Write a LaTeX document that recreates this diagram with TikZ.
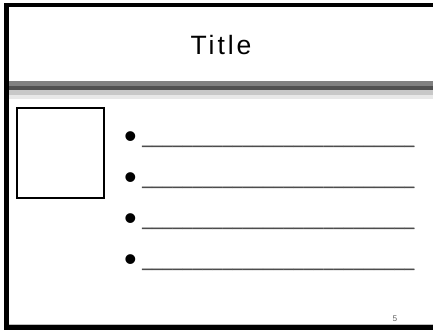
\documentclass[tikz,border=0pt]{standalone}
\usepackage{fontspec}
\setmainfont{Liberation Sans}
\usepackage{xcolor}

\begin{document}
\begin{tikzpicture}[x=0.75pt,y=0.75pt,yscale=-1,xscale=1]
\useasboundingbox (0,0) rectangle (433,332);

%Shape: Rectangle [id:frameleft]
\fill [color={rgb, 255:red, 0; green, 0; blue, 0 }] (4,3) -- (9,3) -- (9,329.5) -- (4,329.5) -- cycle ;
%Shape: Rectangle [id:frametop]
\fill [color={rgb, 255:red, 0; green, 0; blue, 0 }] (4,3) -- (433,3) -- (433,7) -- (4,7) -- cycle ;
%Shape: Rectangle [id:framebottom]
\fill [color={rgb, 255:red, 0; green, 0; blue, 0 }] (5,325) -- (433,325) -- (433,329.5) -- (5,329.5) -- cycle ;
%Shape: Rectangle [id:framebottomedge]
\fill [color={rgb, 255:red, 190; green, 190; blue, 190 }] (9,323.8) -- (433,323.8) -- (433,325) -- (9,325) -- cycle ;

%Shape: Rectangle [id:band1]
\fill [color={rgb, 255:red, 128; green, 128; blue, 128 }] (9,81) -- (433,81) -- (433,86) -- (9,86) -- cycle ;
%Shape: Rectangle [id:band2]
\fill [color={rgb, 255:red, 80; green, 80; blue, 80 }] (9,86) -- (433,86) -- (433,90) -- (9,90) -- cycle ;
%Shape: Rectangle [id:band3]
\fill [color={rgb, 255:red, 200; green, 200; blue, 200 }] (9,90) -- (433,90) -- (433,95) -- (9,95) -- cycle ;
%Shape: Rectangle [id:band4]
\fill [color={rgb, 255:red, 232; green, 232; blue, 232 }] (9,95) -- (433,95) -- (433,99) -- (9,99) -- cycle ;

%Shape: Rectangle [id:picturebox]
\draw [line width=1.5] (17,108) -- (104,108) -- (104,198) -- (17,198) -- cycle ;


% Text Node
\draw (221,45) node [inner sep=0pt] (title) {\fontsize{19.9pt}{24pt}\selectfont\addfontfeatures{LetterSpace=11}Title};

% Text Node
\draw (130.5,148) node [anchor=base][inner sep=0pt] (bulletA) {\fontsize{27pt}{30pt}\selectfont \textbullet};
% Text Node
\draw (142,143.5) node [anchor=base west][inner sep=0pt] (lineA) {\color[RGB]{77,77,77}\fontsize{12.7pt}{16pt}\selectfont\addfontfeatures{FakeBold=2,LetterSpace=4}\_\_\_\_\_\_\_\_\_\_\_\_\_\_\_\_\_\_\_\_\_\_\_\_\_\_\_};
% Text Node
\draw (130.5,189) node [anchor=base][inner sep=0pt] (bulletB) {\fontsize{27pt}{30pt}\selectfont \textbullet};
% Text Node
\draw (142,184.5) node [anchor=base west][inner sep=0pt] (lineB) {\color[RGB]{77,77,77}\fontsize{12.7pt}{16pt}\selectfont\addfontfeatures{FakeBold=2,LetterSpace=4}\_\_\_\_\_\_\_\_\_\_\_\_\_\_\_\_\_\_\_\_\_\_\_\_\_\_\_};
% Text Node
\draw (130.5,230) node [anchor=base][inner sep=0pt] (bulletC) {\fontsize{27pt}{30pt}\selectfont \textbullet};
% Text Node
\draw (142,225.5) node [anchor=base west][inner sep=0pt] (lineC) {\color[RGB]{77,77,77}\fontsize{12.7pt}{16pt}\selectfont\addfontfeatures{FakeBold=2,LetterSpace=4}\_\_\_\_\_\_\_\_\_\_\_\_\_\_\_\_\_\_\_\_\_\_\_\_\_\_\_};
% Text Node
\draw (130.5,271) node [anchor=base][inner sep=0pt] (bulletD) {\fontsize{27pt}{30pt}\selectfont \textbullet};
% Text Node
\draw (142,266.5) node [anchor=base west][inner sep=0pt] (lineD) {\color[RGB]{77,77,77}\fontsize{12.7pt}{16pt}\selectfont\addfontfeatures{FakeBold=2,LetterSpace=4}\_\_\_\_\_\_\_\_\_\_\_\_\_\_\_\_\_\_\_\_\_\_\_\_\_\_\_};

% Text Node
\draw (395,319) node [inner sep=0pt] (pagenum) {\color[RGB]{100,100,100}\fontsize{6.2pt}{7pt}\selectfont 5};

\end{tikzpicture}
\end{document}
